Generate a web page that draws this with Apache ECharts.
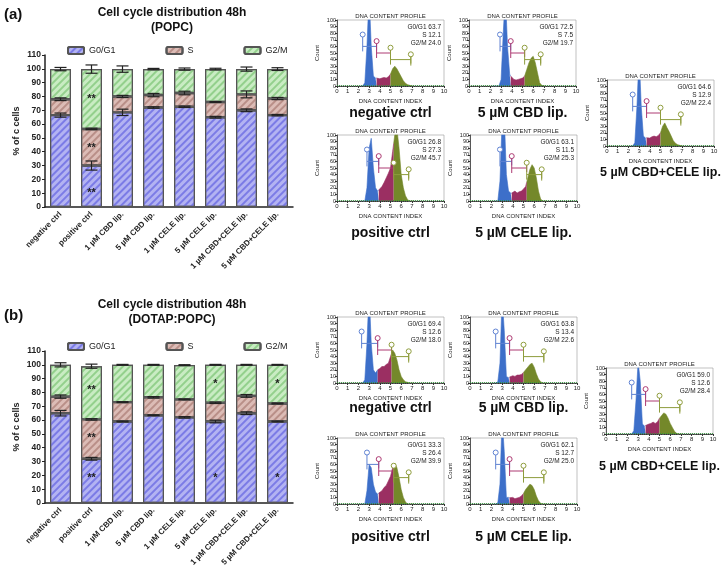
<!DOCTYPE html>
<html>
<head>
<meta charset="utf-8">
<script src="https://cdn.jsdelivr.net/npm/echarts@6/dist/echarts.min.js"></script>
<style>html,body{margin:0;padding:0;background:#fff}#main{width:728px;height:576px}</style>
</head>
<body>
<div id="main"></div>
<script>
// bar chart data
const categories = ['negative ctrl', 'positive ctrl', '1 µM CBD lip.', '5 µM CBD lip.', '1 µM CELE lip.', '5 µM CELE lip.', '1 µM CBD+CELE lip.', '5 µM CBD+CELE lip.'];
const popcG0 = [66.5, 30, 68.5, 72, 72.5, 65, 70, 66.5];
const popcS = [11.5, 26.5, 11.5, 9, 10, 11, 11.5, 12];
const popcG2 = [21.8, 43.3, 19.8, 18.8, 17.3, 23.8, 18.3, 21.3];
const popcErrG0 = [1.5, 3.3, 2.3, 0.5, 0.5, 0.6, 1, 0.5];
const popcErrS = [1, 0.5, 0.8, 1.2, 1.3, 0.3, 2.5, 0.8];
const popcErrG2 = [1.2, 3, 2.3, 0.5, 0.8, 0.6, 1.5, 1];
const popcStars = [[1, 10, '**'], [1, 43, '**'], [1, 78, '**']];

const dotapG0 = [65, 32, 59, 63.5, 62, 59, 65, 59];
const dotapS = [12, 28.5, 14, 13, 13, 13.5, 12.5, 13];
const dotapG2 = [23, 38.5, 27, 23.5, 24.8, 27.5, 22.5, 28];
const dotapErrG0 = [2, 1, 0.3, 0.3, 0.5, 1, 1, 0.3];
const dotapErrS = [1.2, 0.5, 0.3, 0.5, 0.3, 0.5, 1, 0.3];
const dotapErrG2 = [1.5, 1.5, 0.3, 0.3, 0.3, 0.3, 0.3, 0.3];
const dotapStars = [[1, 18, '**'], [1, 47, '**'], [1, 82, '**'], [5, 18, '*'], [5, 86, '*'], [7, 18, '*'], [7, 86, '*']];

// histogram data (DNA content index vs count)
const histX = [2.2, 2.4, 2.6, 2.8, 3.0, 3.2, 3.4, 3.6, 3.8, 4.0, 4.2, 4.4, 4.6, 4.8, 5.0, 5.2, 5.4, 5.6, 5.8, 6.0, 6.2, 6.4, 6.6, 6.8, 7.0, 7.2];
const histCounts = [
  [0,0,5,60,140,60,15,12,12,11,12,13,12,14,18,26,30,26,20,14,8,4,2,1,0,0],
  [0,0,0,0,10,80,140,60,18,12,10,9,10,11,12,15,25,35,42,45,35,20,5,1,0,0],
  [0,0,5,60,140,60,15,12,13,12,14,15,14,16,20,30,35,28,22,15,8,4,2,1,0,0],
  [0,0,0,20,80,95,50,20,15,18,22,28,35,42,50,75,100,110,80,40,20,8,2,0,0,0],
  [0,0,0,30,120,130,40,15,12,12,15,12,14,15,18,22,35,48,55,50,35,15,3,0,0,0],
  [0,0,5,60,140,60,20,15,20,22,25,25,28,30,40,50,45,35,20,10,5,2,1,0,0,0],
  [0,0,2,30,130,80,10,8,10,11,10,12,12,13,16,20,24,28,30,24,14,6,2,0,0,0],
  [0,0,5,50,110,80,15,12,14,15,16,18,16,18,24,28,32,30,24,16,10,4,1,0,0,0],
  [0,0,0,20,60,55,30,18,15,18,20,25,28,35,42,55,62,55,40,22,10,3,0,0,0,0],
  [0,0,2,30,130,80,10,10,9,10,8,9,10,12,16,22,26,30,28,22,12,5,1,0,0,0]
];
const histGates = [
  [2.4, 3.7, 5.0, 6.9], [2.9, 3.9, 5.2, 6.7], [2.4, 3.7, 5.0, 6.9], [2.8, 3.9, 5.3, 6.7], [2.8, 3.9, 5.3, 6.7],
  [2.3, 3.8, 5.1, 6.7], [2.4, 3.7, 5.0, 6.9], [2.4, 3.7, 5.0, 6.9], [2.8, 3.9, 5.3, 6.7], [2.4, 3.7, 5.0, 6.9]
];
const histStats = [
  ['63.7', '12.1', '24.0'], ['72.5', '7.5', '19.7'], ['64.6', '12.9', '22.4'], ['26.8', '27.3', '45.7'], ['63.1', '11.5', '25.3'],
  ['69.4', '12.6', '18.0'], ['63.8', '13.4', '22.6'], ['59.0', '12.6', '28.4'], ['33.3', '26.4', '39.9'], ['62.1', '12.7', '25.0']
];
const histCaptions = ['negative ctrl', '5 µM CBD lip.', '5 µM CBD+CELE lip.', 'positive ctrl', '5 µM CELE lip.',
  'negative ctrl', '5 µM CBD lip.', '5 µM CBD+CELE lip.', 'positive ctrl', '5 µM CELE lip.'];

// layout
const histPos = [[337, 20, 113], [469, 20, 113], [607, 80, 173], [337, 135, 233], [470, 135, 233],
  [337, 317, 408], [470, 317, 408], [606, 368, 467], [337, 438, 537], [470, 438, 537]];
const HW = 107, HH = 66;
const F = 'Liberation Sans, Arial, sans-serif';

const fillCols = ['#b3b3f2', '#dcbcb6', '#c9ecc3'];
const stripeCols = ['#7b7be6', '#b98f88', '#93d08c'];
const phaseNames = ['G0/G1', 'S', 'G2/M'];
const regionCols = ['#3d6fc9', '#9b2f62', '#74882a'];
const gateCols = ['#5f82d2', '#ad3a72', '#8e9c3c', '#8e9c3c'];

function decal(i) {
  return { symbol: 'rect', symbolSize: 1, dashArrayX: [1, 0], dashArrayY: [1.2, 2.2], rotation: -Math.PI / 4, color: stripeCols[i] };
}

const grids = [], xAxes = [], yAxes = [], series = [], graphics = [];

function addBarChart(gi, top, vals, errs, stars) {
  grids.push({ left: 45, top: top, width: 248, height: 152 });
  xAxes.push({
    gridIndex: gi, type: 'category', data: categories,
    axisLine: { lineStyle: { color: '#222', width: 1.5 } }, axisTick: { alignWithLabel: true, lineStyle: { color: '#222' } },
    axisLabel: { rotate: 45, fontSize: 8, fontFamily: F, fontWeight: 'bold', color: '#222', interval: 0, margin: 6 }
  });
  yAxes.push({
    gridIndex: gi, type: 'value', min: 0, max: 110, interval: 10,
    name: '% of c cells', nameLocation: 'middle', nameGap: 24, nameRotate: 90,
    nameTextStyle: { fontSize: 9, fontFamily: F, fontWeight: 'bold', color: '#222' },
    axisLine: { show: true, lineStyle: { color: '#222', width: 1.5 } }, axisTick: { show: true, length: 3 },
    axisLabel: { fontSize: 8.5, fontFamily: F, fontWeight: 'bold', color: '#222', margin: 4 }, splitLine: { show: false }
  });
  const stack = 'st' + gi;
  vals.forEach((v, i) => {
    series.push({
      name: phaseNames[i], type: 'bar', stack: stack, xAxisIndex: gi, yAxisIndex: gi, barWidth: 21, data: v,
      itemStyle: { color: fillCols[i], borderColor: '#555', borderWidth: 1.2, decal: decal(i) }
    });
  });
  // error bars at cumulative tops
  const errData = [];
  for (let c = 0; c < categories.length; c++) {
    let cum = 0;
    for (let i = 0; i < 3; i++) { cum += vals[i][c]; errData.push([c, cum, errs[i][c]]); }
  }
  series.push({
    type: 'custom', xAxisIndex: gi, yAxisIndex: gi, data: errData, z: 5,
    renderItem: (params, api) => {
      const x = api.value(0), y = api.value(1), e = api.value(2);
      const hi = api.coord([x, y + e]), lo = api.coord([x, y - e]);
      const s = { stroke: '#222', lineWidth: 1.2 };
      return { type: 'group', children: [
        { type: 'line', shape: { x1: hi[0], y1: hi[1], x2: lo[0], y2: lo[1] }, style: s },
        { type: 'line', shape: { x1: hi[0] - 6, y1: hi[1], x2: hi[0] + 6, y2: hi[1] }, style: s },
        { type: 'line', shape: { x1: lo[0] - 6, y1: lo[1], x2: lo[0] + 6, y2: lo[1] }, style: s }
      ] };
    }
  });
  series.push({
    type: 'custom', xAxisIndex: gi, yAxisIndex: gi, data: stars, z: 6,
    renderItem: (params, api) => {
      const p = api.coord([api.value(0), api.value(1)]);
      return { type: 'text', x: p[0], y: p[1], style: { text: stars[params.dataIndex][2], fontSize: 11, fontWeight: 'bold', fontFamily: F, fill: '#222', align: 'center', verticalAlign: 'middle' } };
    }
  });
}

addBarChart(0, 55, [popcG0, popcS, popcG2], [popcErrG0, popcErrS, popcErrG2], popcStars);
addBarChart(1, 351, [dotapG0, dotapS, dotapG2], [dotapErrG0, dotapErrS, dotapErrG2], dotapStars);

histCounts.forEach((counts, k) => {
  const gi = k + 2;
  const [left, top, capY] = histPos[k];
  grids.push({ left: left, top: top, width: HW, height: HH });
  xAxes.push({
    gridIndex: gi, type: 'value', min: 0, max: 10, interval: 1,
    name: 'DNA CONTENT INDEX', nameLocation: 'middle', nameGap: 12,
    nameTextStyle: { fontSize: 6, fontFamily: F, color: '#222' },
    axisLine: { lineStyle: { color: '#333', width: 0.8 } }, axisTick: { length: 2 }, minorTick: { show: true, splitNumber: 5, length: 1 },
    axisLabel: { fontSize: 6, fontFamily: F, color: '#222', margin: 2 }, splitLine: { show: false }
  });
  yAxes.push({
    gridIndex: gi, type: 'value', min: 0, max: 100, interval: 10,
    name: 'Count', nameLocation: 'middle', nameGap: 17, nameRotate: 90,
    nameTextStyle: { fontSize: 6, fontFamily: F, color: '#222' },
    axisLine: { show: true, lineStyle: { color: '#333', width: 0.8 } }, axisTick: { show: true, length: 2 },
    axisLabel: { fontSize: 5.5, fontFamily: F, color: '#222', margin: 1 }, splitLine: { show: false }
  });
  graphics.push({ type: 'rect', shape: { x: left, y: top, width: HW, height: HH }, style: { fill: 'none', stroke: '#999', lineWidth: 0.6 } });
  const g = histGates[k];
  const bounds = [[0, g[1]], [g[1], g[2]], [g[2], 10]];
  bounds.forEach((b, r) => {
    const pts = [];
    histX.forEach((x, i) => { if (x >= b[0] - 0.001 && x <= b[1] + 0.001) pts.push([x, counts[i]]); });
    // interpolate edge points so regions meet
    [b[0], b[1]].forEach(edge => {
      for (let i = 0; i < histX.length - 1; i++) {
        if (histX[i] < edge && histX[i + 1] > edge) {
          const t = (edge - histX[i]) / (histX[i + 1] - histX[i]);
          pts.push([edge, counts[i] + t * (counts[i + 1] - counts[i])]);
        }
      }
    });
    pts.sort((a, c) => a[0] - c[0]);
    series.push({
      type: 'line', xAxisIndex: gi, yAxisIndex: gi, data: pts, showSymbol: false, clip: true,
      lineStyle: { width: 0.6, color: regionCols[r] }, areaStyle: { color: regionCols[r], opacity: 1 }
    });
  });
  series.push({
    type: 'line', xAxisIndex: gi, yAxisIndex: gi, data: [[0, 0.5], [10, 0.5]], showSymbol: false,
    lineStyle: { width: 1, color: '#2f9a3a', type: 'dotted' }
  });
  const gateData = [[g[0], g[1], 60, 78, 0], [g[1], g[2], 50, 68, 1], [g[2], g[3], 40, 58, 2]];
  series.push({
    type: 'custom', xAxisIndex: gi, yAxisIndex: gi, data: gateData, z: 5,
    renderItem: (params, api) => {
      const x1 = api.value(0), x2 = api.value(1), y = api.value(2), cy = api.value(3), c = gateCols[api.value(4)];
      const a = api.coord([x1, y]), b = api.coord([x2, y]), cc = api.coord([x1, cy]);
      const s = { stroke: c, lineWidth: 1, fill: 'none' };
      const ch = [
        { type: 'circle', shape: { cx: cc[0], cy: cc[1], r: 2.5 }, style: { stroke: c, lineWidth: 1, fill: '#fff' } },
        { type: 'line', shape: { x1: a[0], y1: cc[1] + 2.5, x2: a[0], y2: a[1] + 5 }, style: s },
        { type: 'line', shape: { x1: a[0], y1: a[1], x2: b[0], y2: b[1] }, style: s },
        { type: 'line', shape: { x1: b[0], y1: b[1] - 4, x2: b[0], y2: b[1] + 4 }, style: s }
      ];
      if (api.value(4) === 2) {
        const ec = api.coord([x2, 48]);
        ch.push({ type: 'circle', shape: { cx: ec[0], cy: ec[1], r: 2.5 }, style: { stroke: c, lineWidth: 1, fill: '#fff' } });
        ch.push({ type: 'line', shape: { x1: b[0], y1: ec[1] + 2.5, x2: b[0], y2: b[1] + 6 }, style: s });
      }
      return { type: 'group', children: ch };
    }
  });
  graphics.push({ type: 'text', x: left + HW / 2, y: top - 7, style: { text: 'DNA CONTENT PROFILE', fontSize: 6, fontFamily: F, fill: '#222', align: 'center' } });
  const st = histStats[k];
  graphics.push({ type: 'text', x: left + HW - 3, y: top + 3, style: { text: 'G0/G1 ' + st[0] + '\nS ' + st[1] + '\nG2/M ' + st[2], fontSize: 6.5, lineHeight: 8, fontFamily: F, fill: '#222', align: 'right' } });
  const capSize = left > 600 ? 12.5 : 14;
  graphics.push({ type: 'text', x: left + HW / 2, y: capY, style: { text: histCaptions[k], fontSize: capSize, fontWeight: 'bold', fontFamily: F, fill: '#111', align: 'center', verticalAlign: 'middle' } });
});

// titles
[['(a)', 'Cell cycle distribution 48h\n(POPC)', 15, 20], ['(b)', 'Cell cycle distribution 48h\n(DOTAP:POPC)', 316, 312]].forEach(t => {
  graphics.push({ type: 'text', x: 4, y: t[2], style: { text: t[0], fontSize: 15, fontWeight: 'bold', fontFamily: F, fill: '#111', verticalAlign: 'middle' } });
  graphics.push({ type: 'text', x: 172, y: t[3], style: { text: t[1], fontSize: 12, lineHeight: 15, fontWeight: 'bold', fontFamily: F, fill: '#111', align: 'center', verticalAlign: 'middle' } });
});

const legendStyle = { itemWidth: 16, itemHeight: 7, itemGap: 50, textStyle: { fontSize: 9, fontFamily: F, color: '#222' }, selectedMode: false, data: phaseNames };

const chart = echarts.init(document.getElementById('main'), null, { renderer: 'canvas' });
chart.setOption({
  animation: false,
  legend: [Object.assign({ top: 41, left: 62 }, legendStyle), Object.assign({ top: 337, left: 62 }, legendStyle)],
  grid: grids, xAxis: xAxes, yAxis: yAxes, series: series, graphic: graphics
});
window.addEventListener('resize', function() { chart.resize(); });
</script>
</body>
</html>
